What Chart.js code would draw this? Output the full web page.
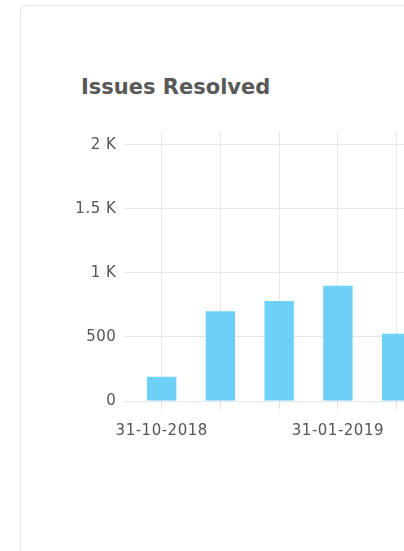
<!DOCTYPE html>
<html>
<head>
<meta charset="utf-8">
<script src="https://cdn.jsdelivr.net/npm/chart.js@4/dist/chart.umd.min.js"></script>
<style>
  html, body { margin: 0; padding: 0; background: #fff; overflow: hidden; }
  body { width: 404px; height: 551px; position: relative; }
  .card {
    position: absolute; left: 20px; top: 5px; width: 470px; height: 600px;
    border: 1px solid #e4e4e4; border-radius: 6px; box-sizing: border-box;
  }
  .title {
    position: absolute; left: 81px; top: 75px; margin: 0;
    font-family: "DejaVu Sans", sans-serif; font-weight: 700; font-size: 21px;
    color: #585858; white-space: nowrap;
  }
  .chart-wrap { position: absolute; left: 60px; top: 115px; width: 366px; height: 326px; }
</style>
</head>
<body>
<div class="card"></div>
<h3 class="title">Issues Resolved</h3>
<div class="chart-wrap"><canvas id="chart-issues"></canvas></div>
<script>
// monthly buckets (only the ones visible in the picture)
var months = ['31-10-2018', '30-11-2018', '31-12-2018', '31-01-2019', '28-02-2019'];
var resolved = [190, 700, 780, 900, 525];
var yTicks = [0, 500, 1000, 1500, 2000];

function formatK(v) {
  if (v >= 1000) return (v / 1000) + ' K';
  return '' + v;
}

// the tick labels in the picture are spaced out a little
var spacedText = {
  id: 'spacedText',
  beforeUpdate: function (chart) { chart.ctx.letterSpacing = '0.5px'; },
  beforeDraw: function (chart) { chart.ctx.letterSpacing = '0.5px'; }
};

new Chart(document.getElementById('chart-issues'), {
  type: 'bar',
  data: {
    labels: months,
    datasets: [{
      label: 'Issues Resolved',
      data: resolved,
      backgroundColor: '#6dd0f7',
      barPercentage: 0.5,
      categoryPercentage: 1
    }]
  },
  plugins: [spacedText],
  options: {
    responsive: true,
    maintainAspectRatio: false,
    animation: false,
    layout: { padding: { top: 6, right: 0, bottom: 0, left: 0 } },
    plugins: {
      legend: { display: false },
      tooltip: { enabled: false }
    },
    scales: {
      x: {
        grid: { offset: false, color: '#e6e6e6', tickColor: '#f0d8d8', tickLength: 8 },
        border: { display: false },
        ticks: {
          autoSkip: false,
          maxRotation: 0,
          padding: 13,
          color: '#555',
          font: { family: 'DejaVu Sans', size: 15 },
          callback: function (val, i) { return i % 3 == 0 ? months[i] : ''; }
        },
        afterFit: function (axis) { axis.height = 40; }
      },
      y: {
        min: 0,
        max: 2100,
        grid: { color: '#e6e6e6', tickLength: 8 },
        border: { display: false },
        ticks: {
          padding: 8,
          color: '#555',
          font: { family: 'DejaVu Sans', size: 15 },
          callback: function (v) { return formatK(v); }
        },
        afterBuildTicks: function (axis) {
          axis.ticks = yTicks.map(function (v) { return { value: v }; });
        },
        afterFit: function (axis) { axis.width = 72.3; }
      }
    }
  }
});
</script>
</body>
</html>
